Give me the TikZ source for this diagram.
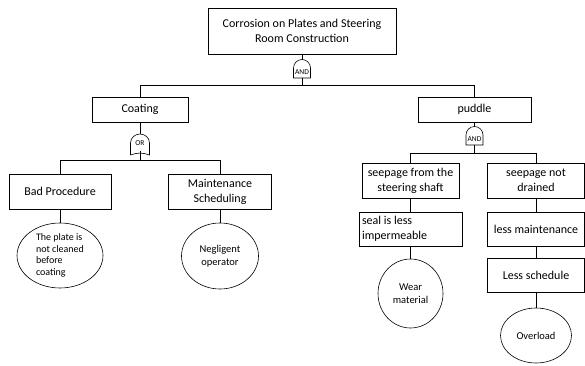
\documentclass[tikz,border=0pt]{standalone}
\usepackage{fontspec}
\setmainfont{Carlito}
\usetikzlibrary{positioning,shapes}

\begin{document}
\begin{tikzpicture}[x=1pt, y=1pt, line width=0.6pt,
        every node/.style={font=\fontsize{12}{15}\selectfont},
        box/.style={draw, align=center, inner sep=2pt},
        leaf/.style={draw, ellipse, align=center, inner sep=0pt, font=\fontsize{10.5}{12.5}\selectfont},
        gatelabel/.style={inner sep=0pt, font=\fontsize{7.5}{8}\selectfont}]
        \useasboundingbox (0,0) rectangle (585,365);

        % top event and first AND gate
        \node[box, minimum width=188pt, minimum height=46pt] (top) at (302,334) {Corrosion on Plates and Steering\\Room Construction};
        \node[gatelabel] (and1) at (302,292.5) {AND};
        \draw (293.5,287) -- (293.5,297) arc[start angle=180, end angle=0, radius=8.5] -- (310.5,287) -- cycle;
        \coordinate (and1in) at (302,305.5);
        \coordinate (and1out) at (302,287);

        \node[box, minimum width=96pt, minimum height=25pt] (coating) at (140,255.5) {Coating};
        \node[box, minimum width=113pt, minimum height=25pt] (puddle) at (474.5,255.5) {puddle};

        \draw (top) -- (and1in);
        \draw (and1out) -- ++(0,-7) -| (coating);
        \draw (and1out) -- ++(0,-7) -| (puddle);

        % left branch, OR gate
        \node[gatelabel] (or1) at (140,221.5) {OR};
        \draw (130.5,210) -- (130.5,222) to[out=90, in=180] (140,231) to[out=0, in=90] (149.5,222) -- (149.5,210) to[out=160, in=20] (130.5,210);
        \coordinate (or1in) at (140,231);
        \coordinate (or1out) at (140,214);

        \node[box, minimum width=102pt, minimum height=35pt] (badproc) at (60,173.5) {Bad Procedure};
        \node[box, minimum width=103pt, minimum height=35pt] (maint) at (220,173.5) {Maintenance\\Scheduling};
        \node[leaf, minimum width=86pt, minimum height=65pt, align=left, font=\fontsize{10}{11.5}\selectfont] (plate) at (60,109.5) {The plate is\\not cleaned\\before\\coating};
        \node[leaf, minimum width=77pt, minimum height=66pt] (negligent) at (220,109) {Negligent\\operator};

        \draw (coating) -- (or1in);
        \draw (or1out) -- ++(0,-9) -| (badproc);
        \draw (or1out) -- ++(0,-9) -| (maint);
        \draw (badproc) -- (plate);
        \draw (maint) -- (negligent);

        % right branch, AND gate
        \node[gatelabel] (and2) at (474.5,225.5) {AND};
        \draw (466,220) -- (466,230) arc[start angle=180, end angle=0, radius=8.5] -- (483,220) -- cycle;
        \coordinate (and2in) at (474.5,238.5);
        \coordinate (and2out) at (474.5,220);

        \node[box, minimum width=97pt, minimum height=35pt] (shaft) at (410.5,184.5) {seepage from the\\steering shaft};
        \node[box, minimum width=97pt, minimum height=35pt] (notdrained) at (536,184.5) {seepage not\\drained};
        \node[box, minimum width=103pt, minimum height=34pt, text width=97pt, align=flush left] (seal) at (410.5,136) {seal is less\\impermeable};
        \node[leaf, minimum width=65pt, minimum height=69pt] (wear) at (410.5,71.5) {Wear\\material};
        \node[box, minimum width=97pt, minimum height=34pt] (lessmaint) at (536,136) {less maintenance};
        \node[box, minimum width=97pt, minimum height=34pt] (lesssched) at (536,90) {Less schedule};
        \node[leaf, minimum width=71pt, minimum height=55pt] (overload) at (536,29.5) {Overload};

        \draw (puddle) -- (and2in);
        \draw (and2out) -- ++(0,-8) -| (shaft);
        \draw (and2out) -- ++(0,-8) -| (notdrained);
        \draw (shaft) -- (seal);
        \draw (seal) -- (wear);
        \draw (notdrained) -- (lessmaint);
        \draw (lessmaint) -- (lesssched);
        \draw (lesssched) -- (overload);
\end{tikzpicture}
\end{document}
